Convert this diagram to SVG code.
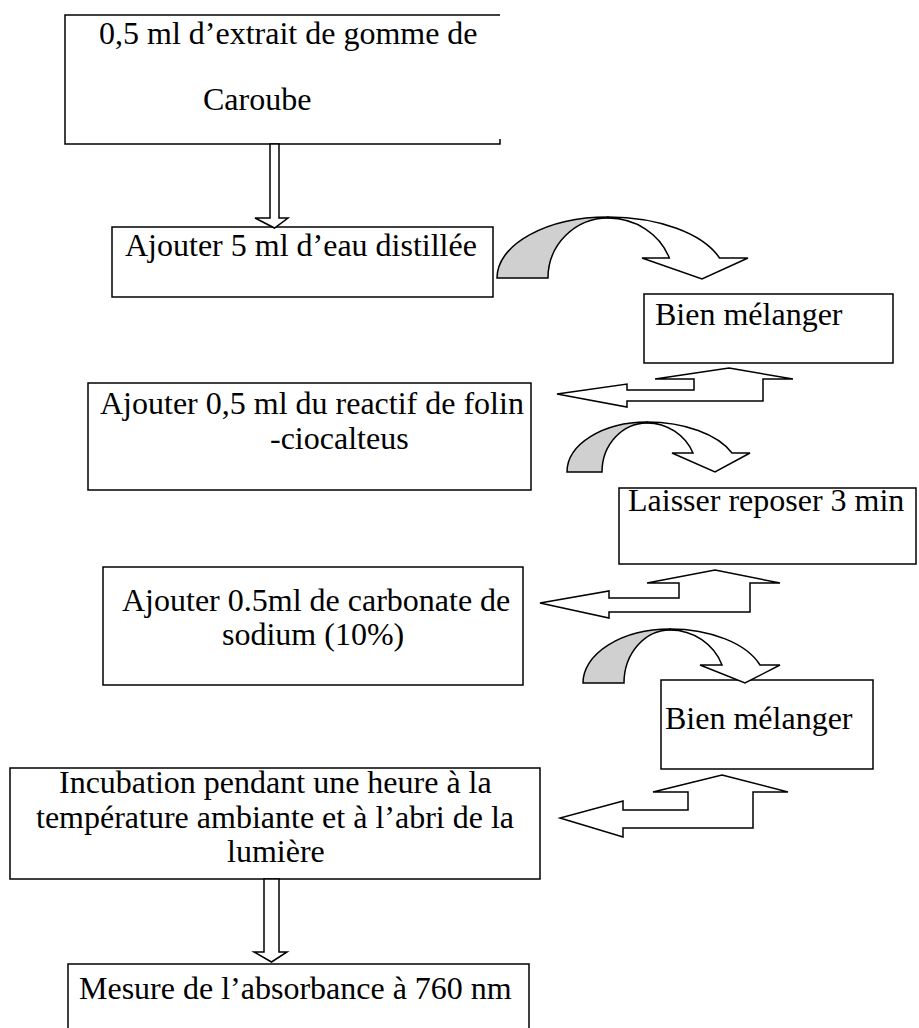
<svg xmlns="http://www.w3.org/2000/svg" width="919" height="1028" viewBox="0 0 919 1028">
<style>
.box{fill:#fff;stroke:#000;stroke-width:1.5}
.ln{fill:none;stroke:#000;stroke-width:1.5}
.arr{fill:#fff;stroke:#000;stroke-width:1.5;stroke-linejoin:miter}
.back{fill:#d0d0d0;stroke:#000;stroke-width:1.5}
text{font-family:"Liberation Serif","Times New Roman",serif;font-size:32px;fill:#000}
</style>
<rect width="919" height="1028" fill="#fff"/>
<g id="n1">
<path class="ln" d="M500,15 H65 V144 H500 V139"/>
<text x="99" y="44">0,5 ml d’extrait de gomme de</text>
<text x="203" y="110">Caroube</text>
</g>
<g id="n2">
<rect class="box" x="112" y="227" width="381" height="70"/>
<text x="125" y="256">Ajouter 5 ml d’eau distillée</text>
</g>
<g id="n3">
<rect class="box" x="644" y="294" width="249" height="69"/>
<text x="655" y="325">Bien mélanger</text>
</g>
<g id="n4">
<rect class="box" x="88" y="383" width="443" height="107"/>
<text x="100" y="414">Ajouter 0,5 ml du reactif de folin</text>
<text x="270" y="449">-ciocalteus</text>
</g>
<g id="n5">
<rect class="box" x="619" y="488" width="297" height="76"/>
<text x="628" y="511">Laisser reposer 3 min</text>
</g>
<g id="n6">
<rect class="box" x="103" y="567" width="420" height="118"/>
<text x="122" y="611">Ajouter 0.5ml de carbonate de</text>
<text x="222" y="645">sodium (10%)</text>
</g>
<g id="n7">
<rect class="box" x="661" y="680" width="212" height="89"/>
<text x="665" y="729">Bien mélanger</text>
</g>
<g id="n8">
<rect class="box" x="10" y="768" width="530" height="111"/>
<text x="59" y="793">Incubation pendant une heure à la</text>
<text x="36" y="828">température ambiante et à l’abri de la</text>
<text x="227" y="862">lumière</text>
</g>
<g id="n9">
<path class="ln" d="M68,1028 V964 H529 V1028"/>
<text x="79" y="999">Mesure de l’absorbance à 760 nm</text>
</g>
<g id="connectors">
<path class="arr" d="M270,144 H279 V218 H288 L274.5,228 L255,218 H270 Z"/>
<path class="back" d="M497,278 A111 61 0 0 1 608,217 L608,218 A60 60 0 0 0 548,278 Z"/>
<path class="arr" d="M608,217 A118 61 0 0 1 719.5,258 L748,258 L702,279 L642,258 L669.3,258 A65 60 0 0 0 608,218 Z"/>
<path class="arr" d="M729,368 L793,379 L763,379 L763,401 L627,401 L627,407 L557,394 L627,384 L627,390 L694,390 L694,379 L655,379 Z"/>
<path class="back" d="M567,472 A80 50 0 0 1 647,422 L647,423 A45 49 0 0 0 602,472 Z"/>
<path class="arr" d="M647,422 A92 50 0 0 1 732,453 L750,453 L715,472 L672,453 L693,453 A50 49 0 0 0 647,423 Z"/>
<path class="arr" d="M715,570 L780,583 L750,583 L750,612 L609,612 L609,618 L540,603 L609,591 L609,598 L679,598 L679,583 L647,583 Z"/>
<path class="back" d="M583,683 A87 54 0 0 1 670,629 L670,630 A46 53 0 0 0 624,683 Z"/>
<path class="arr" d="M670,629 A95.5 54 0 0 1 760,665 L780,665 L745,683 L700,665 L722,665 A55.3 53 0 0 0 670,630 Z"/>
<path class="arr" d="M722,775 L788,792 L753,792 L753,828 L623,828 L623,837 L560,818 L623,801 L623,810 L688,810 L688,792 L653,792 Z"/>
<path class="arr" d="M264,879 H279 V952 H287 L271.5,962 L254,952 H264 Z"/>
</g>
</svg>
